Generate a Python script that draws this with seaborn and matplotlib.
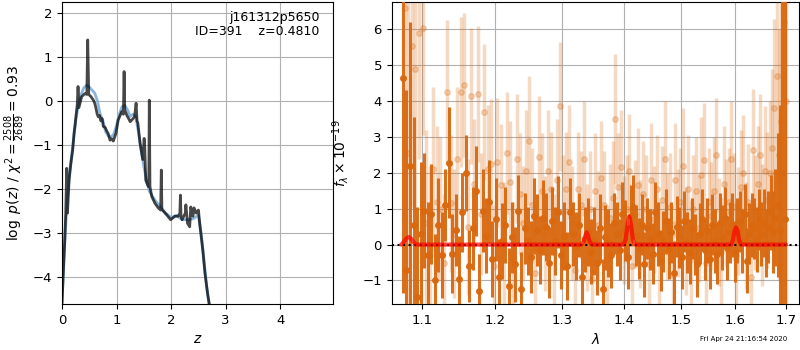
import numpy as np
import matplotlib
matplotlib.use('Agg')
import matplotlib.pyplot as plt
import seaborn as sns
from matplotlib.ticker import NullLocator

sns.set_style('ticks', {'axes.grid': True, 'grid.color': '#b0b0b0',
                        'axes.edgecolor': 'black', 'text.color': 'black',
                        'axes.labelcolor': 'black', 'xtick.color': 'black',
                        'ytick.color': 'black'})
plt.rcParams['font.family'] = ['DejaVu Sans']
plt.rcParams['font.size'] = 9

# ---- left panel: log p(z) ----
Z_FIT = [0.0, 0.02, 0.05, 0.068, 0.086, 0.10, 0.13, 0.16, 0.196, 0.22,
         0.239, 0.26, 0.28, 0.294, 0.31, 0.36, 0.42, 0.455, 0.471, 0.49,
         0.53, 0.575, 0.60, 0.62, 0.645, 0.667, 0.69, 0.71, 0.735, 0.758,
         0.79, 0.82, 0.85, 0.88, 0.91, 0.94, 0.99, 1.03, 1.095, 1.125,
         1.138, 1.15, 1.16, 1.19, 1.217, 1.25, 1.28, 1.33, 1.358, 1.375,
         1.39, 1.43, 1.48, 1.505, 1.515, 1.535, 1.57, 1.59, 1.60, 1.612,
         1.645, 1.705, 1.77, 1.808, 1.82, 1.83, 1.84, 1.92, 1.99, 2.07,
         2.13, 2.16, 2.17, 2.18, 2.20, 2.26, 2.27, 2.30, 2.34, 2.36,
         2.40, 2.42, 2.46, 2.50, 2.53, 2.58, 2.62, 2.667, 2.70, 2.75]
LOGPZ_FIT = [-4.6, -4.0, -3.2, -2.55, -1.53, -2.55, -1.79, -1.45, -1.11, -0.75,
             -0.55, -0.3, -0.07, 0.33, -0.15, 0.1, 0.17, 0.15, 1.39, 0.15,
             0.1, 0.02, -0.05, -0.15, -0.3, -0.36, -0.33, -0.45, -0.4, -0.58,
             -0.6, -0.68, -0.75, -0.89, -0.86, -0.91, -0.73, -0.43, -0.24, -0.3,
             0.67, -0.2, -0.24, -0.33, -0.39, -0.47, -0.43, -0.36, -0.05, -0.45,
             -0.5, -0.96, -1.33, -0.85, -1.0, -1.8, -1.91, -1.95, 0.02, -1.95,
             -2.17, -2.33, -2.44, -2.48, -1.57, -2.45, -2.48, -2.59, -2.70, -2.62,
             -2.62, -2.55, -2.14, -2.6, -2.7, -2.55, -2.36, -2.78, -2.86, -2.41,
             -2.62, -2.43, -2.55, -2.48, -2.86, -3.39, -3.92, -4.37, -4.62, -5.2]

Z_COARSE = [0.0, 0.05, 0.1, 0.15, 0.2, 0.25, 0.3, 0.35, 0.4, 0.45,
            0.5, 0.55, 0.6, 0.65, 0.7, 0.75, 0.8, 0.85, 0.9, 0.95,
            1.0, 1.05, 1.1, 1.15, 1.2, 1.25, 1.3, 1.35, 1.4, 1.45,
            1.5, 1.55, 1.6, 1.65, 1.7, 1.8, 1.9, 2.0, 2.1, 2.2,
            2.3, 2.4, 2.5, 2.55, 2.6, 2.65, 2.7, 2.75]
LOGPZ_COARSE = [-4.6, -3.2, -2.2, -1.5, -1.0, -0.45, -0.1, 0.15, 0.3, 0.36,
                0.32, 0.25, 0.18, 0.0, -0.3, -0.45, -0.7, -0.8, -0.82, -0.75,
                -0.55, -0.3, -0.13, -0.1, -0.2, -0.35, -0.3, -0.35, -0.7, -1.1,
                -1.5, -1.8, -2.05, -2.15, -2.25, -2.4, -2.55, -2.65, -2.6, -2.7,
                -2.7, -2.68, -2.6, -3.0, -3.6, -4.2, -4.7, -5.2]

# ---- right panel: 1D spectrum (G141 pixel grid) ----
WAVE_START, WAVE_STEP, N_PIX = 1.075, 0.00468, 134

FLUX_A = [4.65, -0.70, 2.20, 0.55, -1.45, 0.30, 0.95, -0.30, 0.85, -1.00,
          0.55, -0.30, 1.10, 2.28, -0.25, 0.40, -0.95, 0.90, 2.00, -0.60,
          0.45, 1.50, -1.30, 0.95, 0.25, 1.20, -0.40, 0.70, -0.90, 0.10,
          0.55, -1.15, 0.20, -0.55, 0.95, -1.25, 0.45, 0.10, -0.35, 0.80,
          0.40, -0.15, 0.75, 0.50, -0.50, 0.65, 0.10, 0.90, -0.30, 0.25,
          -0.60, 0.90, 0.30, -0.05, 0.55, -0.90, 0.15, 0.35, -0.20, 0.10,
          -0.50, 0.45, -1.25, 0.20, 0.05, -0.30, 0.60, 0.30, -0.15, 0.85,
          0.40, -0.35, 0.80, 1.05, 0.25, -0.10, 0.55, -0.55, 0.45, 0.15,
          -0.25, 0.90, 0.30, -0.45, 0.10, 0.65, -0.10, 0.35, -0.80, 0.50,
          0.20, -0.35, 0.65, 0.05, -0.20, 0.45, 0.00, -0.55, 0.30, 0.70,
          -0.15, 0.40, -0.40, 0.55, 0.10, -0.25, 0.60, 0.20, 0.75, -0.10,
          0.35, 0.55, -0.20, 0.40, 0.65, 0.10, 0.85, -0.45, 0.30, 0.55,
          0.45, 0.15, 0.70, 0.30, 0.60, 0.05, 0.50, 0.90, 0.35, 0.75,
          1.10, 0.40, 2.00, 0.70]
ERR_A = [6.0, 5.0, 4.0, 3.0, 2.5, 2.0, 1.6, 1.5, 1.4, 1.3,
         1.3, 1.2, 1.0, 1.55, 1.1, 1.0, 1.2, 1.1, 1.05, 1.0,
         1.15, 1.25, 1.05, 1.15, 1.05, 1.15, 1.05, 1.15, 1.05, 1.05,
         1.05, 1.05, 1.0, 1.05, 1.0, 1.05, 1.0, 0.95, 1.0, 1.05,
         1.0, 0.95, 1.05, 0.95, 1.0, 0.95, 0.95, 1.0, 0.95, 0.95,
         0.95, 0.95, 0.9, 0.95, 0.9, 0.95, 0.9, 0.95, 0.9, 0.95,
         0.9, 0.95, 0.85, 0.9, 0.95, 0.9, 0.85, 0.9, 0.85, 0.9,
         0.85, 0.9, 0.85, 0.9, 0.85, 0.85, 0.85, 0.9, 0.85, 0.85,
         0.85, 0.85, 0.9, 0.85, 0.85, 0.9, 0.85, 0.85, 0.9, 0.85,
         0.85, 0.9, 0.85, 0.85, 0.9, 0.85, 0.85, 0.9, 0.85, 0.85,
         0.85, 0.9, 0.85, 0.85, 0.9, 0.85, 0.85, 0.9, 0.85, 0.9,
         0.85, 0.9, 0.85, 0.9, 0.85, 0.9, 0.85, 0.9, 0.85, 0.9,
         0.85, 0.9, 0.85, 0.9, 0.95, 0.95, 1.0, 1.05, 1.15, 1.35,
         2.0, 3.5, 5.0, 7.0]

FLUX_B = [6.60, 2.55, 5.55, 4.90, 5.90, 6.05, 0.60, -0.30, 2.10, 1.20,
          1.00, -0.50, 4.25, 1.15, 0.30, 2.40, 4.25, 4.45, 0.50, 4.15,
          1.70, 4.20, 0.85, 3.70, 2.10, 2.25, -0.60, 2.30, 1.65, 0.05,
          2.55, 1.75, -0.40, 2.40, 1.40, 0.60, 2.05, 2.90, 1.10, -0.80,
          2.45, 1.50, 0.30, 2.05, 1.55, -0.20, 1.80, 3.85, 0.90, 1.55,
          2.30, 0.60, -0.70, 1.55, 1.10, 2.40, 0.20, 1.00, -0.95, 1.50,
          0.55, 1.85, 1.10, -0.40, 0.75, 1.30, 3.50, 1.60, 2.15, 0.40,
          1.00, 2.05, -0.60, 0.85, 1.65, 0.30, 1.40, 1.00, -0.55, 1.80,
          0.70, 1.55, -0.30, 1.25, 2.40, 0.50, 1.05, -0.85, 1.80, 0.60,
          1.20, 2.20, 0.10, 1.55, -0.25, 1.00, 1.50, 0.45, 1.95, 2.35,
          -0.50, 1.20, 0.80, 1.50, 2.50, 0.35, -0.20, 1.70, 0.90, 1.20,
          2.40, 1.05, -0.30, 0.65, 1.60, 2.00, 0.25, 1.20, -0.90, 2.65,
          0.90, 1.70, 2.50, 0.55, 2.05, 1.25, 2.00, 2.70, 3.80, 4.70,
          2.50, 3.45, 6.20, 4.00]
ERR_B = [6.0, 5.0, 4.5, 4.0, 3.5, 3.0, 2.6, 2.5, 2.3, 2.1,
         2.0, 1.9, 2.0, 1.9, 1.8, 2.0, 2.1, 2.0, 1.9, 1.9,
         1.8, 1.9, 1.7, 1.9, 1.8, 1.8, 1.7, 1.8, 1.7, 1.7,
         1.7, 1.7, 1.6, 1.8, 1.7, 1.6, 1.7, 1.8, 1.6, 1.6,
         1.7, 1.6, 1.6, 1.7, 1.6, 1.6, 1.7, 1.8, 1.6, 1.6,
         1.6, 1.6, 1.5, 1.6, 1.5, 1.6, 1.5, 1.6, 1.5, 1.6,
         1.5, 1.6, 1.5, 1.5, 1.5, 1.6, 1.8, 1.5, 1.6, 1.5,
         1.5, 1.6, 1.5, 1.5, 1.6, 1.5, 1.5, 1.5, 1.5, 1.6,
         1.5, 1.5, 1.5, 1.5, 1.6, 1.5, 1.5, 1.5, 1.6, 1.5,
         1.5, 1.6, 1.5, 1.5, 1.5, 1.5, 1.5, 1.5, 1.6, 1.6,
         1.5, 1.5, 1.5, 1.5, 1.6, 1.5, 1.5, 1.6, 1.5, 1.5,
         1.6, 1.5, 1.5, 1.5, 1.6, 1.6, 1.5, 1.6, 1.5, 1.7,
         1.6, 1.6, 1.7, 1.7, 1.8, 1.9, 2.0, 2.2, 2.5, 3.0,
         3.5, 4.5, 5.5, 6.0]

MODEL_WAVE = [1.073, 1.0765, 1.0795, 1.0825, 1.0855, 1.0885, 1.092,
              1.331, 1.3345, 1.3375, 1.3395, 1.3415, 1.3445, 1.348,
              1.400, 1.4035, 1.4065, 1.4095, 1.4125, 1.4155, 1.419,
              1.592, 1.5955, 1.5985, 1.6015, 1.6045, 1.6075, 1.611, 1.700]
MODEL_FLUX = [0.0, 0.08, 0.17, 0.21, 0.17, 0.08, 0.0,
              0.0, 0.08, 0.26, 0.34, 0.26, 0.08, 0.0,
              0.0, 0.15, 0.55, 0.78, 0.55, 0.15, 0.0,
              0.0, 0.12, 0.37, 0.48, 0.37, 0.12, 0.0, 0.0]

wave_a = WAVE_START + WAVE_STEP * np.arange(N_PIX)
wave_b = wave_a + WAVE_STEP / 2
ORANGE = '#d9680f'

fig = plt.figure(figsize=(8, 3.5), dpi=100)
ax1 = fig.add_axes([0.0775, 0.131, 0.339, 0.863])
ax2 = fig.add_axes([0.4896, 0.131, 0.5095, 0.863])

sns.lineplot(x=Z_COARSE, y=LOGPZ_COARSE, ax=ax1, sort=False, estimator=None,
             color='#7fb0dc', alpha=0.9, lw=2)
sns.lineplot(x=Z_FIT, y=LOGPZ_FIT, ax=ax1, sort=False, estimator=None,
             color='k', alpha=0.72, lw=2)
ax1.set_xlim(0, 4.97)
ax1.set_ylim(-4.62, 2.25)
ax1.set_xticks([0, 1, 2, 3, 4])
ax1.set_yticks([-4, -3, -2, -1, 0, 1, 2])
ax1.set_xlabel('$z$', fontsize=10)
ax1.set_ylabel(r'$\log\ p(z)$ / $\chi^2=\frac{2508}{2689}=0.93$', fontsize=10)
ax1.text(0.95, 0.97, 'j161312p5650\nID=391    z=0.4810', transform=ax1.transAxes,
         ha='right', va='top', fontsize=9, linespacing=1.1)

ax2.errorbar(wave_b, FLUX_B, yerr=ERR_B, fmt='o', color=ORANGE, ms=4,
             elinewidth=2.5, alpha=0.25, zorder=2)
ax2.errorbar(wave_a, FLUX_A, yerr=ERR_A, fmt='o', color=ORANGE, ms=4,
             elinewidth=2.2, alpha=0.95, zorder=3)
ax2.axhline(0, color='k', ls=':', lw=1.5, zorder=4)
sns.lineplot(x=MODEL_WAVE, y=MODEL_FLUX, ax=ax2, sort=False, estimator=None,
             color='red', alpha=0.7, lw=3, zorder=5)
ax2.set_xscale('log')
ax2.set_xlim(1.0608, 1.7274)
ax2.set_ylim(-1.66, 6.76)
xt = [1.1, 1.2, 1.3, 1.4, 1.5, 1.6, 1.7]
ax2.set_xticks(xt)
ax2.set_xticklabels([f'{v:.1f}' for v in xt])
ax2.xaxis.set_minor_locator(NullLocator())
ax2.set_yticks([-1, 0, 1, 2, 3, 4, 5, 6])
ax2.set_xlabel(r'$\lambda$', fontsize=10)
ax2.set_ylabel(r'$f_\lambda\times10^{-19}$', fontsize=10, labelpad=8)

for ax in (ax1, ax2):
    ax.grid(True, color='#b0b0b0', lw=0.8)
    ax.set_axisbelow(True)
    ax.tick_params(labelsize=9.5, length=3.5, direction='out')

fig.text(0.984, 0.022, 'Fri Apr 24 21:16:54 2020', ha='right', va='bottom', fontsize=5)

fig.savefig('out.png', dpi=100)
